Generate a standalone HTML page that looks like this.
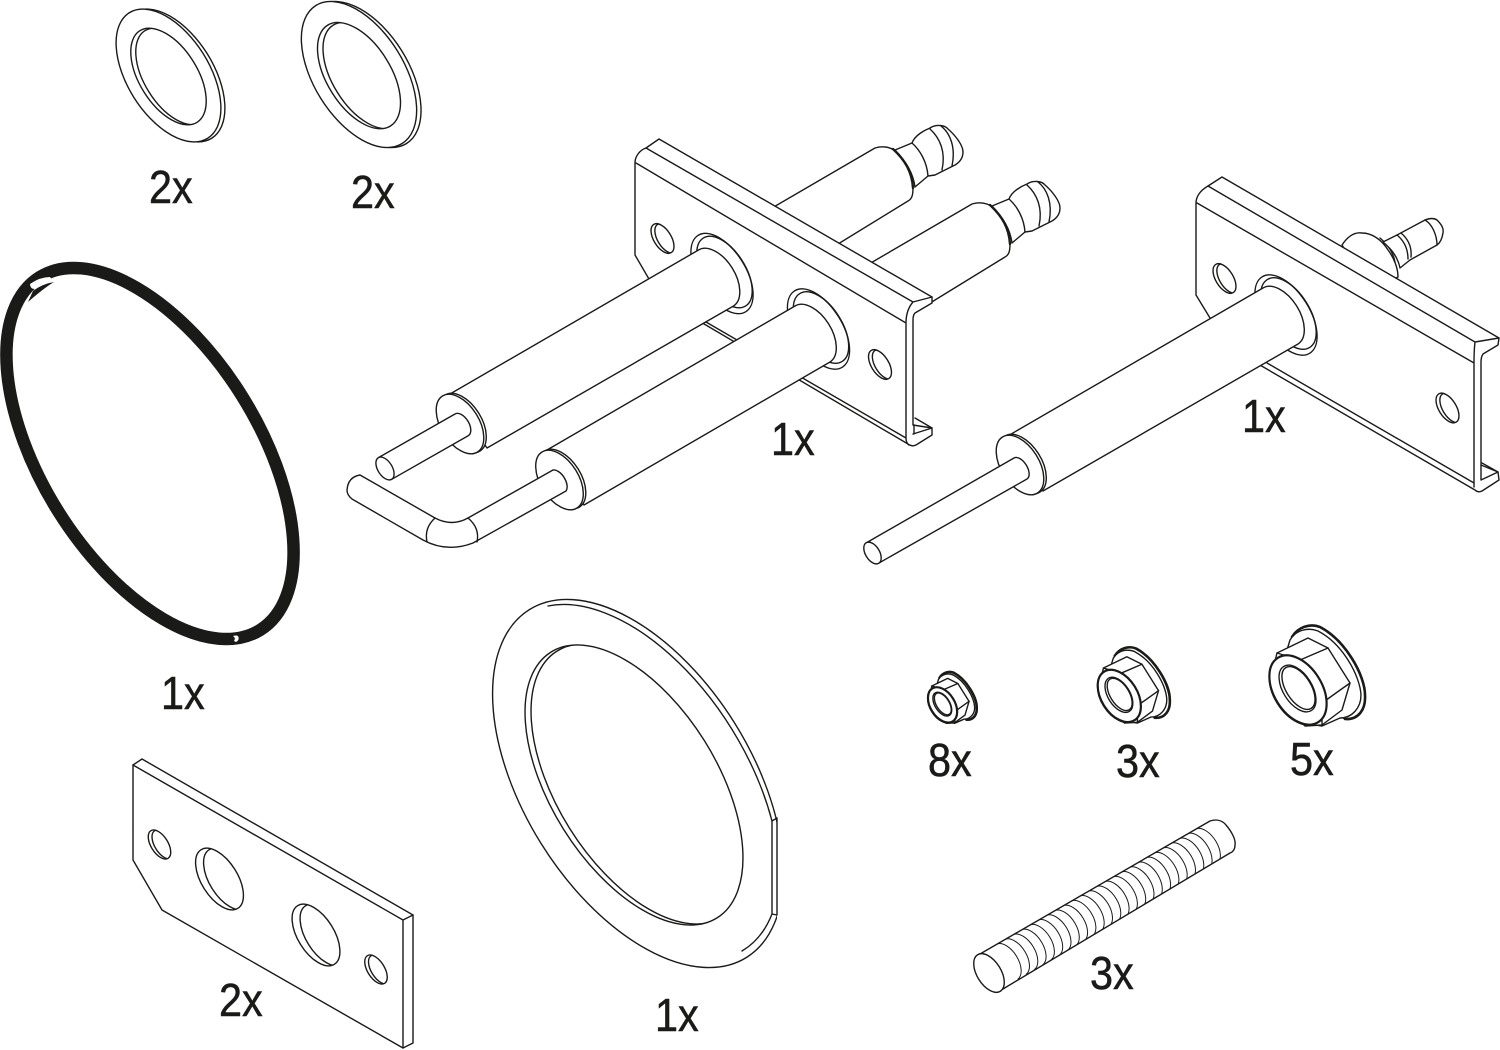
<!DOCTYPE html>
<html><head><meta charset="utf-8"><style>
html,body{margin:0;padding:0;background:#fff}
svg{display:block}
svg *{vector-effect:non-scaling-stroke}
.l{fill:none;stroke:#1a1a18;stroke-width:1.4;stroke-linejoin:round;stroke-linecap:round}
.f{fill:#fff;stroke:#1a1a18;stroke-width:1.4;stroke-linejoin:round;stroke-linecap:round}
.b{fill:none;stroke:#1a1a18;stroke-width:2.4;stroke-linecap:round}
text{font-family:"Liberation Sans",sans-serif;font-size:46px;fill:#1a1a18;stroke:#1a1a18;stroke-width:.5}
</style></head><body>
<svg width="1500" height="1050" viewBox="0 0 1500 1050" xmlns="http://www.w3.org/2000/svg">
<defs>
<clipPath id="wc"><ellipse cx="0" cy="1" rx="54" ry="29" transform="rotate(58 0 1)"/></clipPath>
<g id="washer">
<ellipse class="f" cx="4" cy="0" rx="74" ry="41" transform="rotate(58 4 0)"/>
<ellipse class="f" cx="0" cy="0" rx="74" ry="41" transform="rotate(58)"/>
<ellipse class="f" cx="0" cy="1" rx="54" ry="29" transform="rotate(58 0 1)"/>
<g clip-path="url(#wc)"><ellipse class="l" cx="5" cy="1" rx="54" ry="29" transform="rotate(58 5 1)"/></g>
</g>
<clipPath id="hc"><ellipse cx="0" cy="0" rx="34.6" ry="18.1" transform="rotate(58)"/></clipPath>
<g id="hole">
<ellipse class="f" cx="0" cy="0" rx="34.6" ry="18.1" transform="rotate(58)"/>
<g clip-path="url(#hc)"><ellipse class="l" cx="8" cy="0" rx="34.6" ry="18.1" transform="rotate(58 8 0)"/></g>
</g>
<g id="barb">
<path class="f" d="M760 215 L875 148 C885 145 892 148 897 152 C906 162 913 175 913 188 C913 195 912 199 908 201 L825 252 Z"/>
<path class="b" d="M893 149 C905 160 912 172 913 188"/>
<path class="f" d="M895 150 L912 143 C915 135 925 130 930 128 C936 124 945 125 948 129 C955 135 963 145 963 152 C963 158 960 162 955 165 L935 175 L928 176 L915 187 C913 172 905 160 895 150 Z"/>
<path class="l" d="M912 143 C920 150 927 162 928 176"/>
<path class="l" d="M930 129 C940 138 946 152 942 170"/>
<path class="l" d="M941 126 C950 133 956 147 952 166"/>
</g>
<g id="nut">
<path class="f" d="M1292 637 C1298 627 1310 623 1320 627 C1345 640 1365 675 1365 695 C1366 710 1358 720 1345 719 L1310 700 Z"/>
<path class="b" d="M1292 637 C1298 627 1310 623 1320 627 C1345 640 1365 675 1365 695 C1366 710 1358 720 1345 719" style="stroke-width:2.6"/>
<path class="f" d="M1290 640 C1296 630 1308 627 1318 631 C1343 644 1360 676 1361 695 C1361 708 1352 718 1340 718 L1322 726 L1298 722 L1275 690 Z"/>
<ellipse class="b" cx="1299" cy="690" rx="38" ry="25" transform="rotate(58 1299 690)"/>
<path class="f" d="M1277 653 L1308 638 L1328 648 L1350 683 L1342 710 L1322 725 L1305 726 L1278 700 L1270 682 Z"/>
<path class="l" d="M1277 653 L1300 660 L1328 648 M1300 660 L1322 703 L1350 683 M1322 703 L1322 725"/>
<ellipse class="f" cx="1298" cy="690" rx="38" ry="24" transform="rotate(58 1298 690)" style="stroke-width:2.2"/>
<ellipse class="f" cx="1297.5" cy="688.5" rx="26" ry="14.5" transform="rotate(58 1297.5 688.5)"/>
<ellipse class="l" cx="1298.5" cy="688" rx="24" ry="12.5" transform="rotate(58 1298.5 688)"/>
</g>
<clipPath id="gc"><rect x="400" y="560" width="377" height="440"/></clipPath>
<clipPath id="gh"><ellipse cx="634" cy="785" rx="156.7" ry="83.2" transform="rotate(58 634 785)"/></clipPath>
<clipPath id="rc"><path d="M980 954 L1210 821 L1240 830 L1230 853 L998 992 Z"/></clipPath>
</defs>

<!-- small washers -->
<use href="#washer" transform="translate(168.5 75.5)"/>
<use href="#washer" transform="translate(359 74.5) scale(1.1)"/>

<!-- black ring -->
<ellipse cx="150" cy="453.5" rx="208" ry="108.5" transform="rotate(58 150 453.5)" fill="none" stroke="#1a1a18" stroke-width="12.5"/>
<path fill="#fff" d="M30 284 Q40 277 50 277 L53 281 Q42 284 35 289 Q30 289 30 284 Z"/>
<path fill="#1a1a18" d="M33 291 Q42 284 54 282 Q44 288 28 302 Z"/>
<path fill="#fff" d="M233 636 Q236 635 238 636 Q240 640 236 642 L234 641 Q236 638 233 636 Z"/>

<!-- bracket 1 assembly -->
<use href="#barb"/>
<use href="#barb" transform="translate(97 56)"/>
<path class="f" d="M635 163 C635 156 640 150 646 148 L659 139 L932 297 L932 303 L915 313 Q913 315 913 320 L913 425 L932 428 L932 435 L916 445 Q912 447 908 444 L660 298 L635 255 Z"/>
<path class="l" d="M646 148 L913 302 L932 297 M913 302 Q906 310 906 323 M636 163 L906 323 M906 323 V438 Q906 443 909 445 M913 434 L932 428 M915 418 L932 428 M706 322 L906 438 M914 434 V425"/>
<use href="#hole" transform="translate(662.5 238.5) scale(.48)"/>
<use href="#hole" transform="translate(880 364.5) scale(.48)"/>

<!-- collar+pipe 1 -->
<ellipse class="f" cx="722" cy="273.5" rx="45" ry="23.5" transform="rotate(58 722 273.5)"/>
<ellipse class="l" cx="724.5" cy="272" rx="40" ry="21" transform="rotate(58 724.5 272)"/>
<path class="f" d="M450 394 L698.5 250 A33 19 58 0 1 733.5 306 L487 448 Z"/>
<ellipse class="f" cx="462.5" cy="423" rx="33" ry="19" transform="rotate(58 462.5 423)"/>
<ellipse class="f" cx="460" cy="424" rx="33" ry="19" transform="rotate(58 460 424)"/>
<path class="f" d="M378.3 457.7 L455 414 A12.7 7.2 58 0 1 468.4 435.6 L391.7 479.3 Z"/>
<ellipse class="f" cx="385" cy="468.5" rx="12.7" ry="7.2" transform="rotate(58 385 468.5)"/>

<!-- collar+pipe 2 -->
<ellipse class="f" cx="818.5" cy="329" rx="45" ry="23.5" transform="rotate(58 818.5 329)"/>
<ellipse class="l" cx="821" cy="327.5" rx="40" ry="21" transform="rotate(58 821 327.5)"/>
<path class="f" d="M547 450 L795 306 A33 19 58 0 1 830 362 L584 505 Z"/>
<ellipse class="f" cx="562" cy="479" rx="33" ry="19" transform="rotate(58 562 479)"/>
<ellipse class="f" cx="559.5" cy="480" rx="33" ry="19" transform="rotate(58 559.5 480)"/>
<path class="f" d="M360 475 Q348 477 347 490 Q347 495 352 499 L423 540 Q447 553 473 543 L566 491 A12.7 7.2 58 0 0 553 470 L468 518 Q452 527 435 518 Z"/>
<path class="l" d="M435 518 Q424 528 427 542 M468 518 Q480 528 477 542"/>

<!-- bracket 2 assembly -->
<path class="f" d="M1342 245 C1348 236 1355 232 1362 233 C1372 233 1382 240 1388 250 C1394 258 1398 268 1398 277 L1370 290 Z"/>
<path class="l" d="M1380 238 C1388 245 1393 252 1395 262"/>
<path class="f" d="M1383 242 L1397 235 L1425 220 C1430 218 1434 218 1437 220 C1441 224 1444 228 1443 233 C1442 239 1440 243 1437 245 L1410 260 L1400 268 C1398 258 1393 250 1383 242 Z"/>
<path class="l" d="M1397 235 C1403 240 1408 248 1408 259 M1401 233 C1407 238 1412 246 1411 257 M1425 220 C1432 224 1437 235 1437 245"/>
<path class="f" d="M1196 203 C1196 196 1201 190 1208 186 L1222 177 L1499 338 L1498 345 L1483 354 Q1481 357 1481 362 L1481 465 L1498 472 L1499 480 L1482 491 Q1478 493 1475 490 L1222 343 L1210 318 L1196 295 Z"/>
<path class="l" d="M1208 186 L1475 342 L1499 338 M1475 342 Q1474 350 1474 363 M1197 203 L1474 363 V487 M1481 480 L1498 472 M1482 463 L1498 472 M1267 363 L1474 483 M1481 465 V480"/>
<use href="#hole" transform="translate(1224.5 278.5) scale(.48)"/>
<use href="#hole" transform="translate(1447.5 408) scale(.48)"/>
<ellipse class="f" cx="1286" cy="315" rx="45" ry="23.5" transform="rotate(58 1286 315)"/>
<ellipse class="l" cx="1288.5" cy="313.5" rx="40" ry="21" transform="rotate(58 1288.5 313.5)"/>
<path class="f" d="M1006 437 L1263 288 A33 19 58 0 1 1298 344 L1043 491 Z"/>
<ellipse class="f" cx="1022.5" cy="464" rx="33" ry="19" transform="rotate(58 1022.5 464)"/>
<ellipse class="f" cx="1020" cy="465" rx="33" ry="19" transform="rotate(58 1020 465)"/>
<path class="f" d="M866 543 L1014 458 A12 6.5 58 0 1 1027 479 L879 563 Z"/>
<ellipse class="f" cx="872.5" cy="553" rx="12" ry="7" transform="rotate(58 872.5 553)"/>

<!-- plate -->
<path class="f" d="M133 765 L142 759 L413 915 L413 1043 L403 1048 L162 910 L133 860 Z"/>
<path class="l" d="M133 765 L403 920 L413 915 M403 920 V1048"/>
<use href="#hole" transform="translate(159.5 844.5) scale(.47)"/>
<use href="#hole" transform="translate(219.5 879)"/>
<use href="#hole" transform="translate(316 935)"/>
<use href="#hole" transform="translate(376 969.5) scale(.47)"/>

<!-- big gasket -->
<g clip-path="url(#gc)"><ellipse class="l" cx="638" cy="783.5" rx="205" ry="114" transform="rotate(58 638 783.5)"/></g>
<path class="l" d="M772 821 A205 114 58 0 0 548 606"/>
<path class="l" d="M777 818 V915 M772 821 V914 M772 821 L777 818 M772 914 L777 915 M772 914 A205 114 58 0 1 742 951"/>
<ellipse class="l" cx="634" cy="785" rx="156.7" ry="83.2" transform="rotate(58 634 785)"/>
<g clip-path="url(#gh)"><ellipse class="l" cx="640" cy="784" rx="156.7" ry="83.2" transform="rotate(58 640 784)"/></g>

<!-- nuts -->
<use href="#nut"/>
<use href="#nut" transform="translate(1134 685) scale(.754) translate(-1317.5 -675.5)"/>
<use href="#nut" transform="translate(952.5 697.5) scale(.51) translate(-1317.5 -675.5)"/>

<!-- threaded rod -->
<path class="f" d="M980 954 L1210 821 C1216 819 1222 820 1226 825 C1232 832 1236 840 1235 845 C1235 849 1233 852 1230 853 L998 992 Z"/>
<g clip-path="url(#rc)"><path class="l" style="stroke-width:1" d="M997 944 a20.5 11.5 58 0 1 21 35 m-12.7 -39.8 a20.5 11.5 58 0 1 21 35 m-12.7 -39.8 a20.5 11.5 58 0 1 21 35 m-12.7 -39.8 a20.5 11.5 58 0 1 21 35 m-12.7 -39.8 a20.5 11.5 58 0 1 21 35 m-12.7 -39.8 a20.5 11.5 58 0 1 21 35 m-12.7 -39.8 a20.5 11.5 58 0 1 21 35 m-12.7 -39.8 a20.5 11.5 58 0 1 21 35 m-12.7 -39.8 a20.5 11.5 58 0 1 21 35 m-12.7 -39.8 a20.5 11.5 58 0 1 21 35 m-12.7 -39.8 a20.5 11.5 58 0 1 21 35 m-12.7 -39.8 a20.5 11.5 58 0 1 21 35 m-12.7 -39.8 a20.5 11.5 58 0 1 21 35 m-12.7 -39.8 a20.5 11.5 58 0 1 21 35 m-12.7 -39.8 a20.5 11.5 58 0 1 21 35 m-12.7 -39.8 a20.5 11.5 58 0 1 21 35 m-12.7 -39.8 a20.5 11.5 58 0 1 21 35 m-12.7 -39.8 a20.5 11.5 58 0 1 21 35 m-12.7 -39.8 a20.5 11.5 58 0 1 21 35 m-12.7 -39.8 a20.5 11.5 58 0 1 21 35 m-12.7 -39.8 a20.5 11.5 58 0 1 21 35 m-12.7 -39.8 a20.5 11.5 58 0 1 21 35 m-12.7 -39.8 a20.5 11.5 58 0 1 21 35 m-12.7 -39.8 a20.5 11.5 58 0 1 21 35 m-12.7 -39.8 a20.5 11.5 58 0 1 21 35"/></g>
<ellipse class="f" cx="989" cy="973" rx="21.5" ry="12" transform="rotate(58 989 973)"/>

<!-- labels -->
<text transform="translate(149 203) scale(.9 1)">2x</text>
<text transform="translate(351 208) scale(.9 1)">2x</text>
<text transform="translate(771 455) scale(.9 1)">1x</text>
<text transform="translate(1242 432) scale(.9 1)">1x</text>
<text transform="translate(161 709) scale(.9 1)">1x</text>
<text transform="translate(928 776) scale(.9 1)">8x</text>
<text transform="translate(1116 777) scale(.9 1)">3x</text>
<text transform="translate(1290 775) scale(.9 1)">5x</text>
<text transform="translate(1090 989) scale(.9 1)">3x</text>
<text transform="translate(219 1016) scale(.9 1)">2x</text>
<text transform="translate(655 1031) scale(.9 1)">1x</text>
</svg>
</body></html>
